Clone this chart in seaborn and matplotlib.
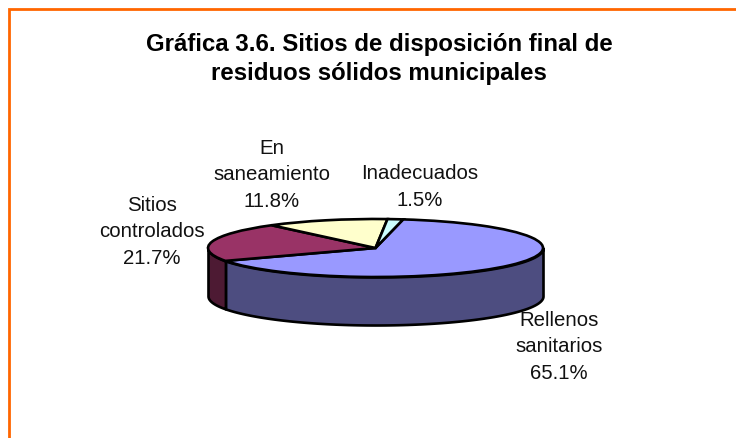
import matplotlib.pyplot as plt
from matplotlib.lines import Line2D
import seaborn as sns
import numpy as np

# data
categories = ['Rellenos\nsanitarios', 'Sitios\ncontrolados', 'En\nsaneamiento', 'Inadecuados']
values = [65.1, 21.7, 11.8, 1.5]
top_colors = ['#9999FF', '#993366', '#FFFFCC', '#CCFFFF']
side_colors = ['#4D4D80', '#4D1A33', '#808066', '#668080']
title = 'Gráfica 3.6. Sitios de disposición final de\nresiduos sólidos municipales'

sns.set_theme(style='white')
plt.rcParams['font.family'] = ['Liberation Sans', 'DejaVu Sans']

W, H = 736, 439
fig = plt.figure(figsize=(W / 100, H / 100), dpi=100, facecolor='white')

# pie geometry in pixels
cx, cy, rx, ry, depth = 375.5, 249, 167.5, 29, 48
start = 80.5

ax = fig.add_axes([(cx - rx) / W, 1 - (cy + ry) / H, 2 * rx / W, 2 * ry / H])
ax.pie(values, colors=top_colors, startangle=start, counterclock=False, radius=1,
       wedgeprops=dict(edgecolor='black', linewidth=1.9, clip_on=False, zorder=5))
ax.set_aspect('auto')
ax.set_xlim(-1, 1)
ax.set_ylim(-1, 1)

# side wall, only the front half of the ellipse shows
d = depth / ry
edges = start - np.cumsum([0] + values) / sum(values) * 360
for i in range(len(values)):
    lo = max(edges[i + 1], -180)
    hi = min(edges[i], 0)
    if lo < hi:
        t = np.radians(np.linspace(lo, hi, 100))
        ax.fill_between(np.cos(t), np.sin(t), np.sin(t) - d, color=side_colors[i],
                        edgecolor='black', linewidth=1.9, clip_on=False, zorder=2)

# labels
label_pos = [(559, 347), (152, 232), (272, 175), (420, 187)]
for name, v, (x, y) in zip(categories, values, label_pos):
    fig.text(x / W, 1 - y / H, f'{name}\n{v:.1f}%', ha='center', va='center',
             fontsize=14.7, color='#111111', linespacing=1.53)

fig.text(379 / W, 1 - 59 / H, title, ha='center', va='center', fontsize=17.3,
         fontweight='bold', color='black', linespacing=1.33)

# orange border, open to the right and bottom
fig.add_artist(Line2D([1, 8.5 / W, 8.5 / W], [1 - 10 / H, 1 - 10 / H, 0],
                      transform=fig.transFigure, color='#FF6600', linewidth=2,
                      solid_joinstyle='miter'))

plt.savefig('out.png', dpi=100)
plt.close()
